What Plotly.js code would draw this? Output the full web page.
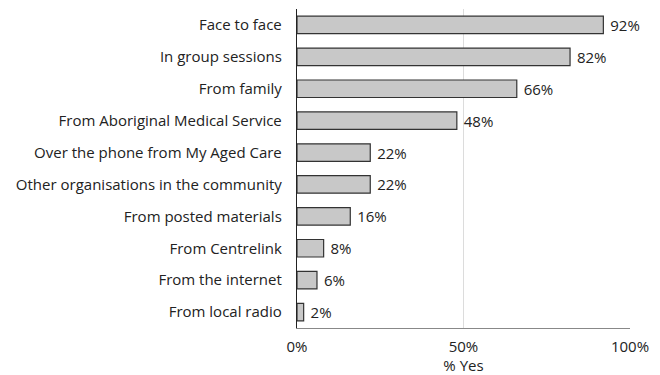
<!DOCTYPE html>
<html><head><meta charset="utf-8">
<script src="https://cdn.plot.ly/plotly-3.0.1.min.js"></script>
<style>html,body{margin:0;padding:0;background:#fff;}#chart{width:660px;height:375px;}</style>
</head><body><div id="chart"></div>
<script>
const categories = ["Face to face","In group sessions","From family","From Aboriginal Medical Service","Over the phone from My Aged Care","Other organisations in the community","From posted materials","From Centrelink","From the internet","From local radio"];
const values = [92,82,66,48,22,22,16,8,6,2];
const tickVals = [0,50,100];
const tickText = ["0%","50%","100%"];

const FONT = "'Open Sans', sans-serif";
Plotly.newPlot("chart",[{
  type:"bar", orientation:"h",
  y:categories, x:values,
  text:values.map(v=>"\u00a0"+v+"%"), textposition:"outside", cliponaxis:false, constraintext:"none",
  textfont:{family:FONT,size:15,color:"#222"},
  marker:{color:"#c8c8c8",line:{color:"#333",width:1.2}},
  width:0.55, hoverinfo:"none"
}],{
  width:660,height:375,
  margin:{l:297,r:30,t:9,b:47},
  paper_bgcolor:"#fff",plot_bgcolor:"#fff",
  showlegend:false,
  font:{family:FONT,size:15,color:"#222"},
  xaxis:{range:[0,100],tickvals:tickVals,ticktext:tickText,showgrid:true,gridcolor:"#dcdcdc",gridwidth:1,
    zeroline:false,showline:true,linecolor:"#888",linewidth:1.2,ticks:"outside",ticklen:5,tickcolor:"rgba(0,0,0,0)",
    title:{text:"% Yes",standoff:3,font:{family:FONT,size:15,color:"#222"}},fixedrange:true},
  yaxis:{autorange:"reversed",showline:true,linecolor:"#222",linewidth:1.2,ticks:"",showgrid:false,zeroline:false,
    ticklabelstandoff:11,fixedrange:true}
},{displayModeBar:false,staticPlot:true});
</script></body></html>
